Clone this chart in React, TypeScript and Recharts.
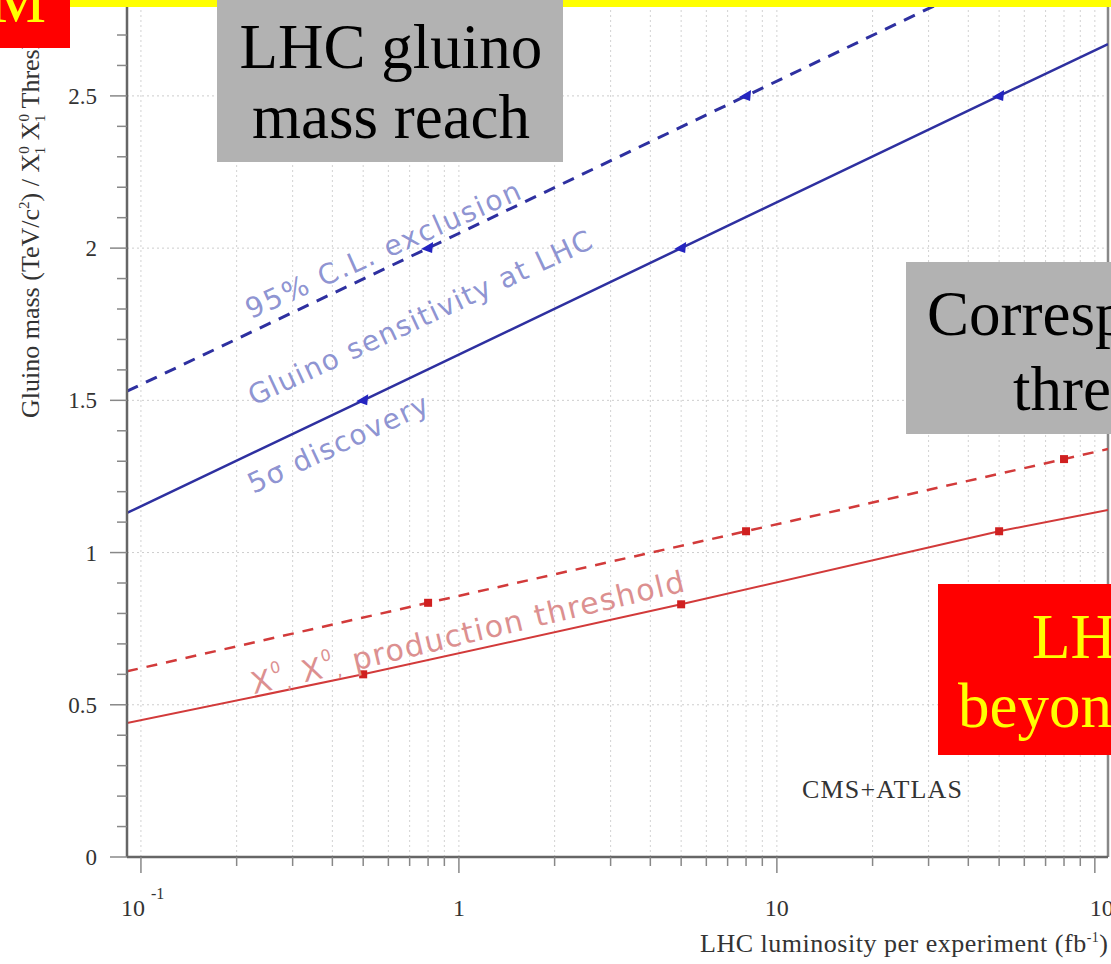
import { CartesianGrid, Line, LineChart, ReferenceLine, XAxis, YAxis } from "recharts";

// luminosity range shown on the log axis (fb^-1) and mass range (TeV/c^2)
const lumiMin = 0.0904;
const lumiMax = 110;
const massMax = 2.815;

const lumiTicks = [
  0.1, 0.2, 0.3, 0.4, 0.5, 0.6, 0.7, 0.8, 0.9,
  1, 2, 3, 4, 5, 6, 7, 8, 9,
  10, 20, 30, 40, 50, 60, 70, 80, 90,
  100,
];
const lumiMajor = [0.1, 1, 10, 100];

const massTicks = [
  0, 0.1, 0.2, 0.3, 0.4, 0.5, 0.6, 0.7, 0.8, 0.9,
  1, 1.1, 1.2, 1.3, 1.4, 1.5, 1.6, 1.7, 1.8, 1.9,
  2, 2.1, 2.2, 2.3, 2.4, 2.5, 2.6, 2.7, 2.8,
];
const massGrid = [0.5, 1, 1.5, 2, 2.5];

// gluino 5 sigma discovery
const discoveryLumi = [0.0904, 0.5, 5, 50, 110];
const discoveryMass = [1.13, 1.5, 2.0, 2.5, 2.67];
// gluino 95% C.L. exclusion
const exclusionLumi = [0.0904, 0.8, 8, 80, 110];
const exclusionMass = [1.53, 2.0, 2.5, 3.0, 3.07];
// chi0 chi0 production threshold, discovery
const thresholdLumi = [0.0904, 0.5, 5, 50, 110];
const thresholdMass = [0.44, 0.6, 0.83, 1.07, 1.14];
// chi0 chi0 production threshold, exclusion
const thresholdExclLumi = [0.0904, 0.8, 8, 80, 110];
const thresholdExclMass = [0.61, 0.835, 1.07, 1.307, 1.34];

const toPoints = (lumi: number[], mass: number[]) =>
  lumi.map((l, i) => ({ lumi: l, mass: mass[i] }));

const discovery = toPoints(discoveryLumi, discoveryMass);
const exclusion = toPoints(exclusionLumi, exclusionMass);
const threshold = toPoints(thresholdLumi, thresholdMass);
const thresholdExcl = toPoints(thresholdExclLumi, thresholdExclMass);

const BLUE = "#2e30a0";
const RED = "#d23a3a";
const AXIS = "#666";
const SERIF = "'Liberation Serif', 'Times New Roman', serif";
const SANS = "'DejaVu Sans', Verdana, sans-serif";

// markers sit on the inner points, the end points only carry the line to the frame
function makeDot(kind: "triangle" | "square", count: number, color: string) {
  return (props: any) => {
    const { cx, cy, index } = props;
    if (index === 0 || index === count - 1 || cx == null || cy == null) {
      return <g key={`d-${index}`} />;
    }
    if (kind === "triangle") {
      return (
        <polygon
          key={`d-${index}`}
          points={`${cx - 7},${cy + 1} ${cx + 5},${cy - 6} ${cx + 4},${cy + 5}`}
          fill={color}
        />
      );
    }
    return <rect key={`d-${index}`} x={cx - 4} y={cy - 4} width={8} height={8} fill={color} />;
  };
}

function LumiTick(props: any) {
  const { x, y, payload } = props;
  const v = payload.value as number;
  const major = lumiMajor.includes(v);
  let label = null;
  if (v === 0.1) {
    label = (
      <>
        <text x={x - 8} y={y + 59} textAnchor="middle" fontSize={24}>10</text>
        <text x={x + 10} y={y + 42} fontSize={16}>-1</text>
      </>
    );
  } else if (v === 100) {
    label = (
      <>
        <text x={x - 5} y={y + 59} fontSize={24}>10</text>
        <text x={x + 20} y={y + 42} fontSize={16}>2</text>
      </>
    );
  } else if (major) {
    label = (
      <text x={x} y={y + 59} textAnchor="middle" fontSize={24}>{String(v)}</text>
    );
  }
  return (
    <g fontFamily={SERIF} fill="#333">
      <line x1={x} x2={x} y1={y} y2={y + (major ? 16 : 9)} stroke="#888" strokeWidth={1.5} />
      {label}
    </g>
  );
}

function MassTick(props: any) {
  const { x, y, payload } = props;
  const v = payload.value as number;
  const major = Math.abs(v * 2 - Math.round(v * 2)) < 1e-6;
  return (
    <g fontFamily={SERIF} fill="#333">
      <line x1={x} x2={x - (major ? 17 : 10)} y1={y} y2={y} stroke="#888" strokeWidth={1.5} />
      {major && (
        <text x={x - 30} y={y} dy="0.35em" textAnchor="end" fontSize={23}>
          {String(v)}
        </text>
      )}
    </g>
  );
}

function Overlay() {
  return (
    <svg
      width={1111}
      height={964}
      style={{ position: "absolute", left: 0, top: 0, pointerEvents: "none" }}
    >
      {/* curve annotations */}
      <g fontFamily={SANS} fill="#7f86cc" fillOpacity={0.9}>
        <text
          transform="translate(383 250) rotate(-24)"
          textAnchor="middle"
          dominantBaseline="central"
          fontSize={28}
          textLength={298}
          lengthAdjust="spacing"
        >
          95% C.L. exclusion
        </text>
        <text
          transform="translate(420 318) rotate(-25)"
          textAnchor="middle"
          dominantBaseline="central"
          fontSize={28}
          textLength={376}
          lengthAdjust="spacing"
        >
          Gluino sensitivity at LHC
        </text>
        <text
          transform="translate(338 444) rotate(-25)"
          textAnchor="middle"
          dominantBaseline="central"
          fontSize={28}
          textLength={196}
          lengthAdjust="spacing"
        >
          5σ discovery
        </text>
      </g>
      <text
        transform="translate(468 632) rotate(-13.5)"
        textAnchor="middle"
        dominantBaseline="central"
        fontFamily={SANS}
        fontSize={30}
        letterSpacing={1.5}
        fill="#dc9090"
      >
        X<tspan fontSize={16} dy={-11}>0</tspan>
        <tspan fontSize={18} dy={17}>,</tspan>
        <tspan dy={-6}> X</tspan>
        <tspan fontSize={16} dy={-11}>0</tspan>
        <tspan fontSize={18} dy={17}>,</tspan>
        <tspan dy={-6}> production threshold</tspan>
      </text>

      <text
        x={802}
        y={798}
        fontFamily={SERIF}
        fontSize={26}
        textLength={160}
        lengthAdjust="spacing"
        fill="#333"
      >
        CMS+ATLAS
      </text>

      {/* axis titles */}
      <text x={700} y={952} fontFamily={SERIF} fontSize={26} fill="#333" textLength={408} lengthAdjust="spacing">
        LHC luminosity per experiment (fb<tspan fontSize={14} dy={-10}>-1</tspan>
        <tspan dy={10}>)</tspan>
      </text>
      <text
        transform="rotate(-90)"
        x={-418}
        y={39}
        fontFamily={SERIF}
        fontSize={26}
        fill="#333"
      >
        Gluino mass (TeV/c<tspan fontSize={15} dy={-10}>2</tspan>
        <tspan dy={10}>) / X</tspan>
        <tspan fontSize={15} dy={-10}>0</tspan>
        <tspan fontSize={15} dy={16} dx={-8}>1</tspan>
        <tspan dy={-6}> X</tspan>
        <tspan fontSize={15} dy={-10}>0</tspan>
        <tspan fontSize={15} dy={16} dx={-8}>1</tspan>
        <tspan dy={-6}> Threshold</tspan>
      </text>

      {/* slide furniture laid over the plot */}
      <rect x={70} y={0} width={1041} height={7} fill="#ffff00" />
      <rect x={0} y={0} width={70} height={48} fill="#ff0000" />
      <text x={-10} y={22} fontFamily={SERIF} fontSize={63} fill="#ffff00">M</text>

      <rect x={217} y={0} width={346} height={162} fill="#b2b2b2" />
      <g fontFamily={SERIF} fontSize={63} fill="#000">
        <text x={391} y={68} textAnchor="middle">LHC gluino</text>
        <text x={391} y={138} textAnchor="middle">mass reach</text>
      </g>

      <rect x={906} y={262} width={205} height={172} fill="#b2b2b2" />
      <g fontFamily={SERIF} fontSize={63} fill="#000">
        <text x={927} y={335}>Corresponding</text>
        <text x={1013} y={410}>threshold</text>
      </g>

      <rect x={938} y={584} width={173} height={171} fill="#ff0000" />
      <g fontFamily={SERIF} fontSize={63} fill="#ffff00">
        <text x={1032} y={658}>LHC</text>
        <text x={958} y={727}>beyond</text>
      </g>
    </svg>
  );
}

export default function App() {
  return (
    <div
      style={{
        position: "fixed",
        left: 0,
        top: 0,
        width: 1111,
        height: 964,
        overflow: "hidden",
        background: "#fff",
      }}
    >
      <LineChart width={1111} height={964} margin={{ top: 0, right: 3, bottom: 0, left: 0 }}>
        <CartesianGrid horizontal={false} stroke="#d2d2d2" strokeDasharray="2 3" />
        {massGrid.map((m) => (
          <ReferenceLine key={m} y={m} stroke="#cdcdcd" strokeDasharray="2 3" />
        ))}
        <XAxis
          type="number"
          dataKey="lumi"
          scale="log"
          domain={[lumiMin, lumiMax]}
          allowDataOverflow
          ticks={lumiTicks}
          interval={0}
          height={107}
          tickSize={0}
          tickMargin={0}
          tickLine={false}
          tick={<LumiTick />}
          axisLine={{ stroke: AXIS, strokeWidth: 2.5 }}
        />
        <YAxis
          type="number"
          domain={[0, massMax]}
          allowDataOverflow
          ticks={massTicks}
          interval={0}
          width={127}
          tickSize={0}
          tickMargin={0}
          tickLine={false}
          tick={<MassTick />}
          axisLine={{ stroke: AXIS, strokeWidth: 2.5 }}
        />
        <ReferenceLine x={lumiMax} stroke="#888" strokeWidth={2.5} />

        <Line
          data={exclusion}
          dataKey="mass"
          type="linear"
          stroke={BLUE}
          strokeWidth={3}
          strokeDasharray="12 9"
          dot={makeDot("triangle", exclusion.length, "#2424c0")}
          activeDot={false}
          isAnimationActive={false}
        />
        <Line
          data={discovery}
          dataKey="mass"
          type="linear"
          stroke={BLUE}
          strokeWidth={2.5}
          dot={makeDot("triangle", discovery.length, "#2424c0")}
          activeDot={false}
          isAnimationActive={false}
        />
        <Line
          data={thresholdExcl}
          dataKey="mass"
          type="linear"
          stroke={RED}
          strokeWidth={2.5}
          strokeDasharray="11 9"
          dot={makeDot("square", thresholdExcl.length, "#d02020")}
          activeDot={false}
          isAnimationActive={false}
        />
        <Line
          data={threshold}
          dataKey="mass"
          type="linear"
          stroke={RED}
          strokeWidth={2}
          dot={makeDot("square", threshold.length, "#d02020")}
          activeDot={false}
          isAnimationActive={false}
        />
      </LineChart>
      <Overlay />
    </div>
  );
}
